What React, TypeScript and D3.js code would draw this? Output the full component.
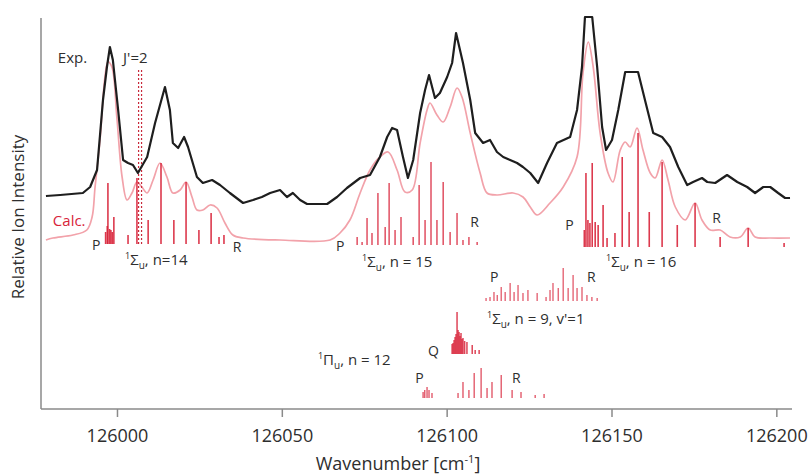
import React from "react";
import * as d3 from "d3";

// ---------- DATA ----------
const xTicks = [126000, 126050, 126100, 126150, 126200];

// Experimental spectrum [wavenumber, relative intensity]
const expWavenumber = [125978.3,125982.6,125989.5,125991.7,125993.8,125995.6,125996.8,125997.7,125998.6,126000.2,126001.7,126003.2,126004.7,126006.2,126009.0,126011.4,126014.4,126015.9,126016.8,126018.4,126020.2,126021.4,126024.1,126025.9,126028.7,126031.1,126034.1,126038.1,126041.1,126043.8,126046.3,126049.3,126051.4,126053.2,126055.4,126057.5,126060.5,126063.6,126066.6,126069.6,126073.6,126076.6,126079.6,126081.8,126083.3,126084.8,126086.6,126088.1,126089.7,126091.8,126093.3,126094.5,126096.3,126097.8,126100.0,126101.5,126102.7,126104.8,126107.0,126108.5,126110.9,126113.0,126115.1,126117.0,126119.1,126121.2,126123.0,126125.2,126127.6,126130.3,126133.3,126137.3,126139.4,126140.9,126141.8,126144.0,126145.5,126147.0,126148.2,126150.0,126151.9,126154.0,126157.9,126160.0,126162.5,126165.2,126167.6,126170.1,126172.8,126174.6,126177.3,126178.9,126181.3,126184.9,126188.0,126191.0,126193.4,126195.9,126198.0,126200.4,126202.5,126204.0];
const expIntensity = [213,214,216,222,239,309,342,362,349,299,249,246,244,236,252,286,322,299,266,261,272,262,232,226,229,224,216,206,209,212,216,219,212,216,209,205,205,205,212,221,231,234,252,272,281,279,252,231,249,296,319,334,311,316,332,346,376,346,309,276,266,269,257,252,249,246,242,236,226,246,266,272,299,342,392,392,342,282,259,269,299,337,337,309,276,272,262,242,224,227,231,227,226,234,227,222,216,222,222,216,211,211];

// Calculated spectrum
const calcWavenumber = [125978.3,125980.4,125986.5,125990.7,125992.3,125993.2,125994.7,125996.2,125997.1,125998.3,125999.8,126001.4,126002.9,126004.4,126005.9,126007.4,126009.0,126010.8,126012.9,126015.0,126016.8,126019.0,126020.8,126022.6,126024.1,126025.9,126028.1,126030.2,126032.6,126035.0,126038.1,126049.3,126064.5,126067.5,126070.5,126073.6,126076.6,126079.6,126082.1,126084.8,126087.2,126089.4,126091.8,126093.9,126094.8,126096.9,126098.8,126100.9,126103.0,126104.5,126107.0,126110.0,126112.1,126115.1,126120.0,126123.0,126125.2,126127.3,126131.2,126135.2,126139.4,126141.2,126142.8,126144.3,126146.4,126148.8,126150.3,126152.5,126154.0,126155.5,126157.6,126159.4,126161.6,126163.1,126165.2,126167.0,126169.2,126172.2,126175.2,126177.3,126179.8,126182.8,126185.8,126188.9,126191.3,126193.4,126198.0,126204.0];
const calcIntensity = [169,171,174,179,192,222,269,332,347,342,292,232,209,216,227,222,216,229,246,232,216,219,227,212,199,199,204,201,186,174,171,169,169,176,189,216,239,252,257,239,217,219,266,299,306,294,287,302,321,312,276,236,216,214,216,212,202,194,206,222,252,336,367,342,276,236,227,259,267,262,281,259,236,231,249,229,202,189,206,189,179,179,172,172,181,172,171,171];

// Stick spectra: offsets (baseline of each band) and [position, height]
const n14Offset = 165;
const n14Pos = [125996.4,125996.9,125997.1,125997.6,125998.0,125998.4,125998.9,126003.2,126005.9,126009.3,126013.2,126017.1,126020.8,126024.7,126028.4,126030.8,126032.3];
const n14Hgt = [12,18,61,15,14,12,27,9,66,24,81,24,62,14,31,7,9];

const n15Offset = 164;
const n15Pos = [126072.7,126074.2,126075.7,126077.2,126079.0,126081.2,126082.4,126084.2,126086.0,126089.7,126091.5,126093.3,126095.1,126096.9,126098.8,126100.9,126103.0,126104.8,126106.6,126109.1];
const n15Hgt = [8,3,27,12,52,18,62,15,28,8,60,25,83,25,63,13,32,5,8,3];

const n16Offset = 162;
const n16Pos = [126141.6,126142.1,126142.7,126143.3,126144.0,126144.9,126145.8,126147.3,126148.5,126150.9,126153.1,126155.2,126157.9,126161.3,126165.2,126169.8,126175.2,126182.8,126191.3,126202.2];
const n16Hgt = [17,74,27,24,84,25,22,42,9,14,90,35,114,35,85,22,44,10,19,4];

const n9Offset = 108;
const n9Pos = [126111.8,126113.0,126114.2,126115.2,126116.4,126117.6,126119.1,126120.3,126121.5,126123.0,126124.5,126127.3,126130.0,126131.2,126132.1,126133.7,126135.2,126136.7,126138.2,126139.4,126140.9,126142.4,126143.9,126145.5];
const n9Hgt = [3,4,9,6,14,9,18,9,16,8,11,8,4,11,18,13,33,13,26,13,14,6,4,3];

const qOffset = 55;
const qPos = [126101.5,126101.8,126102.1,126102.4,126102.7,126103.0,126103.3,126103.6,126103.9,126104.2,126104.5,126104.8,126105.3,126106.0,126107.6,126108.5,126109.7];
const qHgt = [10,11,14,17,20,42,24,22,18,21,15,16,13,12,9,4,4];

const piOffset = 11;
const piPos = [126092.7,126093.2,126093.9,126094.5,126095.4,126103.3,126104.8,126106.6,126108.2,126110.3,126112.1,126113.6,126116.4,126119.7,126122.4,126126.7,126129.4];
const piHgt = [6,8,11,8,5,5,16,8,25,30,10,16,23,8,6,3,4];

// J'=2 marker
const jMarkerPos = [126006.4, 126007.3];
const jMarkerRange = [165, 339];

// ---------- COMPONENT ----------
const W = 811, H = 475;
const x = d3.scaleLinear().domain([125976.8, 126204.6]).range([41, 792]);
const y = d3.scaleLinear().domain([0, 391]).range([409, 18]);

const FONT = "'Open Sans', 'DejaVu Sans', sans-serif";
const RED = "#d8233a";
const TXT = "#2e2e2e";

function Sticks({ pos, hgt, off, color = RED, opacity = 0.9, width = 1.6 }) {
  return (
    <g>
      {pos.map((p, i) => (
        <line key={i} x1={x(p)} x2={x(p)} y1={y(off)} y2={y(off + hgt[i])}
          stroke={color} strokeOpacity={opacity} strokeWidth={width} />
      ))}
    </g>
  );
}

function SigmaLabel({ w, v, rest }) {
  return (
    <text x={x(w)} y={y(v)} fontFamily={FONT} fontSize={15} fill={TXT}>
      <tspan fontSize={9} dy={-6}>1</tspan>
      <tspan dy={6}>Σ</tspan>
      <tspan fontSize={10} dy={4}>u</tspan>
      <tspan dy={-4}>{rest}</tspan>
    </text>
  );
}

function Lbl({ w, v, t, color = TXT, size = 14 }) {
  return <text x={x(w)} y={y(v)} fontFamily={FONT} fontSize={size} fill={color}>{t}</text>;
}

export default function App() {
  const expLine = d3.line<number>().x((d, i) => x(expWavenumber[i])).y((d) => y(d)).curve(d3.curveLinear);
  const calcLine = d3.line<number>().x((d, i) => x(calcWavenumber[i])).y((d) => y(d)).curve(d3.curveCatmullRom.alpha(0.5));
  const axisColor = "#8a8a8a";
  return (
    <svg width={W} height={H} style={{ position: "absolute", left: 0, top: 0, background: "#fff" }}>
      {/* calc curve */}
      <path d={calcLine(calcIntensity) || ""} fill="none" stroke="#f2a2aa" strokeWidth={1.7} />
      {/* sticks */}
      <Sticks pos={n14Pos} hgt={n14Hgt} off={n14Offset} />
      <Sticks pos={n15Pos} hgt={n15Hgt} off={n15Offset} opacity={0.75} />
      <Sticks pos={n16Pos} hgt={n16Hgt} off={n16Offset} />
      <Sticks pos={n9Pos} hgt={n9Hgt} off={n9Offset} opacity={0.7} width={1.4} />
      <Sticks pos={qPos} hgt={qHgt} off={qOffset} opacity={0.85} width={1.5} />
      <Sticks pos={piPos} hgt={piHgt} off={piOffset} opacity={0.75} width={1.4} />
      {jMarkerPos.map((p, i) => (
        <line key={i} x1={x(p)} x2={x(p)} y1={y(jMarkerRange[0])} y2={y(jMarkerRange[1])}
          stroke="#c8283a" strokeWidth={1.2} strokeDasharray="2,2" />
      ))}
      {/* exp curve */}
      <path d={expLine(expIntensity) || ""} fill="none" stroke="#1e1e1e" strokeWidth={2.2} strokeLinejoin="round" />

      {/* axes */}
      <line x1={41} x2={41} y1={18} y2={409} stroke={axisColor} strokeWidth={1.5} />
      <line x1={41} x2={792} y1={409} y2={409} stroke={axisColor} strokeWidth={1.5} />
      {xTicks.map((t) => (
        <g key={t}>
          <line x1={x(t)} x2={x(t)} y1={409} y2={417} stroke={axisColor} strokeWidth={1.5} />
          <text x={x(t)} y={442} textAnchor="middle" fontFamily={FONT} fontSize={18} fill={TXT}>{t}</text>
        </g>
      ))}
      <text x={398} y={470} textAnchor="middle" fontFamily={FONT} fontSize={18} fill={TXT}>
        Wavenumber [cm<tspan fontSize={11} dy={-7}>-1</tspan><tspan dy={7}>]</tspan>
      </text>
      <text transform="translate(24,217) rotate(-90)" textAnchor="middle" fontFamily={FONT} fontSize={17} fill={TXT}>
        Relative Ion Intensity
      </text>

      {/* annotations */}
      <Lbl w={125981.9} v={346} t="Exp." size={15} />
      <Lbl w={126001.7} v={346} t="J'=2" size={15} />
      <Lbl w={125980.4} v={183} t="Calc." color={RED} size={15} />
      <Lbl w={125992.3} v={159} t="P" />
      <Lbl w={126035.0} v={157} t="R" />
      <SigmaLabel w={126002.3} v={144} rest=", n=14" />
      <Lbl w={126066.3} v={158} t="P" />
      <Lbl w={126107.0} v={182} t="R" />
      <SigmaLabel w={126074.2} v={142} rest=", n = 15" />
      <Lbl w={126135.8} v={179} t="P" />
      <Lbl w={126180.4} v={186} t="R" />
      <SigmaLabel w={126148.2} v={142} rest=", n = 16" />
      <Lbl w={126113.0} v={127} t="P" />
      <Lbl w={126142.4} v={127} t="R" />
      <SigmaLabel w={126112.1} v={85} rest=", n = 9, v'=1" />
      <Lbl w={126094.2} v={53} t="Q" />
      <text x={x(126060.8)} y={y(44)} fontFamily={FONT} fontSize={15} fill={TXT}>
        <tspan fontSize={9} dy={-6}>1</tspan>
        <tspan dy={6}>Π</tspan>
        <tspan fontSize={10} dy={4}>u</tspan>
        <tspan dy={-4}>, n = 12</tspan>
      </text>
      <Lbl w={126090.3} v={26} t="P" />
      <Lbl w={126119.7} v={26} t="R" />
    </svg>
  );
}
